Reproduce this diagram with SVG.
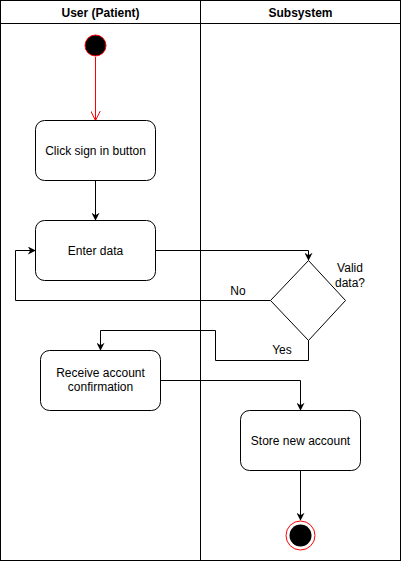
<svg xmlns="http://www.w3.org/2000/svg" width="401" height="561" viewBox="0 0 401 561">
<defs>
<style>
.lane{fill:#fff;stroke:#000;stroke-width:1}
.box{fill:#fff;stroke:#000;stroke-width:1}
.t{font-family:"Liberation Sans",Arial,sans-serif;font-size:12px;fill:#000;text-anchor:middle}
.h{font-weight:bold}
.c{fill:none;stroke:#000;stroke-width:1}
</style>
<marker id="a" viewBox="0 0 10 10" refX="9" refY="5" markerWidth="8" markerHeight="8" markerUnits="userSpaceOnUse" orient="auto"><path d="M0,0 L10,5 L0,10 L3,5 Z" fill="#000"/></marker>
<marker id="ar" viewBox="0 0 10 10" refX="9.5" refY="5" markerWidth="10" markerHeight="10" markerUnits="userSpaceOnUse" orient="auto"><path d="M0,0 L10,5 L0,10" fill="none" stroke="#f00" stroke-width="1"/></marker>
</defs>
<rect width="401" height="561" fill="#fff"/>
<g id="lane-user">
<rect class="lane" x="0.5" y="0.5" width="200" height="560"/>
<line x1="0.5" y1="23.5" x2="200.5" y2="23.5" stroke="#000"/>
<text class="t h" x="100.5" y="17">User (Patient)</text>
</g>
<g id="lane-subsystem">
<rect class="lane" x="200.5" y="0.5" width="200" height="560"/>
<line x1="200.5" y1="23.5" x2="400.5" y2="23.5" stroke="#000"/>
<text class="t h" x="300.5" y="17">Subsystem</text>
</g>
<g id="connectors">
<line x1="95.5" y1="57" x2="95.5" y2="120" stroke="#f00" marker-end="url(#ar)"/>
<line class="c" x1="95.5" y1="180" x2="95.5" y2="220" marker-end="url(#a)"/>
<polyline class="c" points="155.5,250.5 308.5,250.5 308.5,260" marker-end="url(#a)"/>
<polyline class="c" points="270.5,300.5 15.5,300.5 15.5,250.5 35,250.5" marker-end="url(#a)"/>
<polyline class="c" points="308.5,340 308.5,360.5 215.5,360.5 215.5,330.5 100.5,330.5 100.5,350" marker-end="url(#a)"/>
<polyline class="c" points="160.5,380.5 300.5,380.5 300.5,410" marker-end="url(#a)"/>
<line class="c" x1="300.5" y1="470.5" x2="300.5" y2="520" marker-end="url(#a)"/>
<text class="t" x="238" y="295">No</text>
<text class="t" x="282" y="354">Yes</text>
</g>
<g id="start">
<circle cx="95.5" cy="45.5" r="10.5" fill="#000" stroke="#f00" stroke-width="1"/>
</g>
<g id="click-sign-in">
<rect class="box" x="35.5" y="120.5" width="120" height="60" rx="9"/>
<text class="t" x="95.5" y="154.5">Click sign in button</text>
</g>
<g id="enter-data">
<rect class="box" x="35.5" y="220.5" width="120" height="60" rx="9"/>
<text class="t" x="95.5" y="254.5">Enter data</text>
</g>
<g id="valid-data">
<polygon class="box" points="308.5,260.5 345.5,300.5 308.5,340.5 270.5,300.5"/>
<text class="t" x="350" y="272">Valid</text>
<text class="t" x="350" y="287">data?</text>
</g>
<g id="receive-confirmation">
<rect class="box" x="40.5" y="350.5" width="120" height="60" rx="9"/>
<text class="t" x="100.5" y="377">Receive account</text>
<text class="t" x="100.5" y="391">confirmation</text>
</g>
<g id="store-account">
<rect class="box" x="240.5" y="410.5" width="120" height="60" rx="9"/>
<text class="t" x="300.5" y="444.5">Store new account</text>
</g>
<g id="end">
<circle cx="300.5" cy="535.5" r="14.5" fill="#fff" stroke="#f00" stroke-width="1"/>
<circle cx="300.5" cy="535.5" r="11" fill="#000"/>
</g>
</svg>
